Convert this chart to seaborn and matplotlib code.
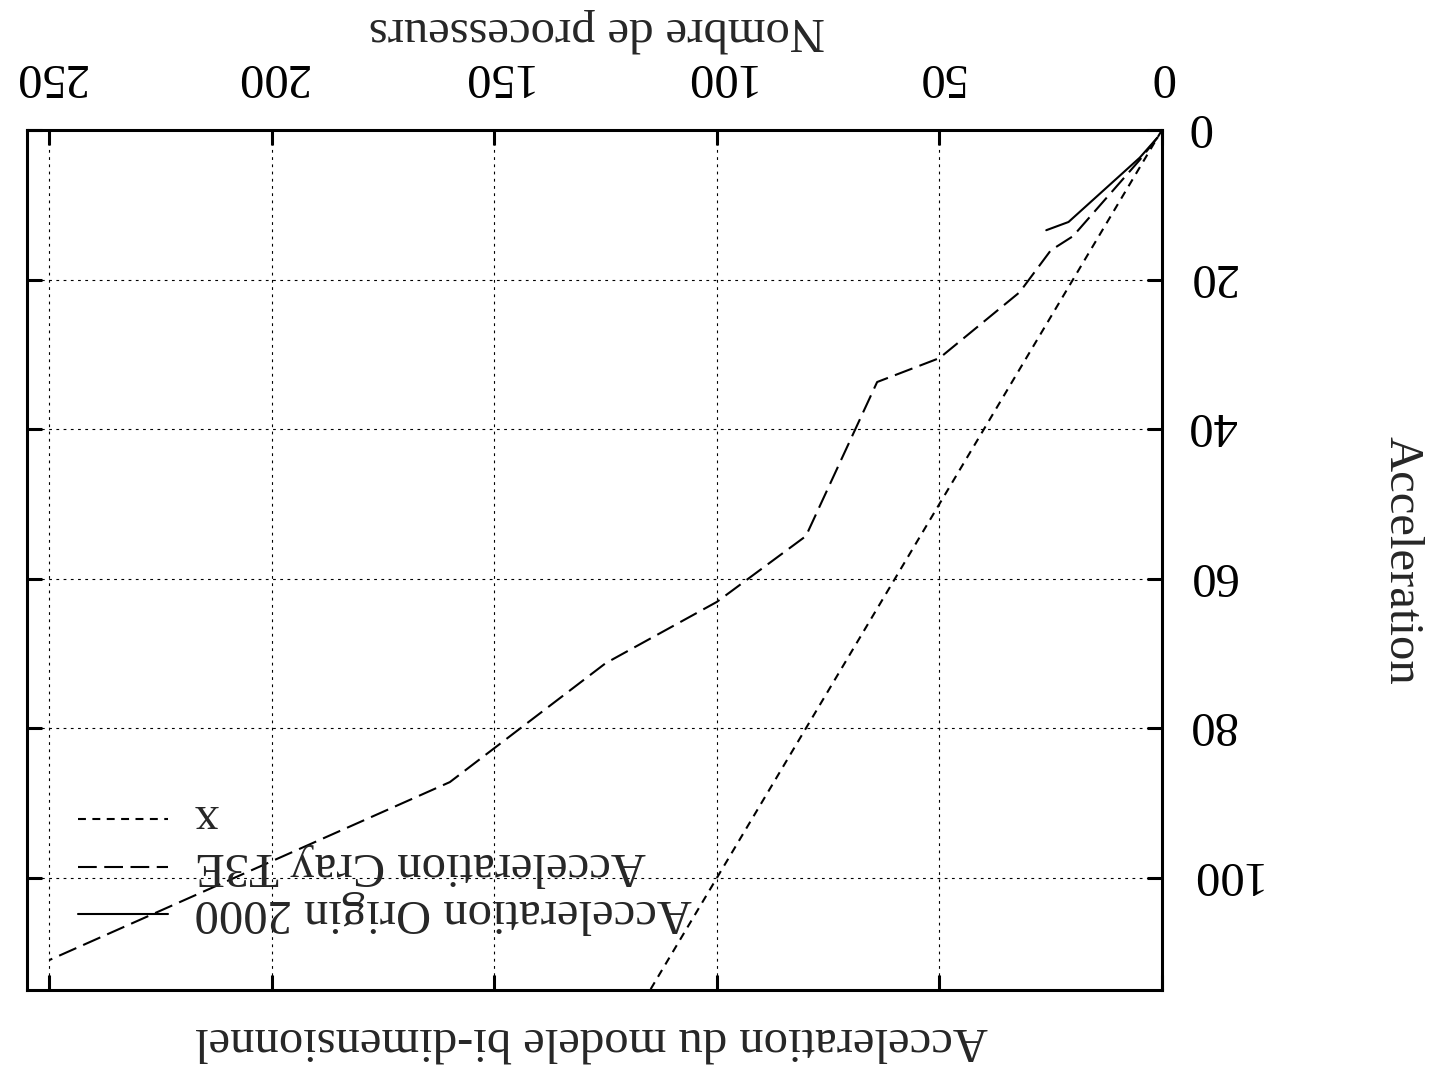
import numpy as np
import pandas as pd
import matplotlib
matplotlib.use('Agg')
import matplotlib.pyplot as plt
import matplotlib.transforms as mtrans
import seaborn as sns

# ---- data ----
ideal_x = [0, 255]
ideal_y = [0, 255]
cray_x = [1, 5, 20, 25, 32, 50, 64, 80, 100, 125, 160, 250]
cray_y = [1, 4.0, 14.2, 16.1, 21.7, 30.5, 33.7, 54.3, 63.1, 71.3, 87.2, 111]
origin_x = [1, 5, 21, 26]
origin_y = [1, 3.7, 12.3, 13.4]
x_ticks = [0, 50, 100, 150, 200, 250]
y_ticks = [0, 20, 40, 60, 80, 100]
series_labels = ['x', 'Acceleration Cray T3E', 'Acceleration Origin 2000']
title = 'Acceleration du modele bi-dimensionnel'
xlabel = 'Nombre de processeurs'
ylabel = 'Acceleration'

sns.set_theme(style='white')
plt.rcParams['font.family'] = ['Liberation Serif', 'DejaVu Serif']
FS = 35

fig = plt.figure(figsize=(14.3, 10.67), dpi=100)
W, H = 1430, 1067
ax = fig.add_axes([27 / W, 1 - 990 / H, (1162 - 27) / W, (990 - 130) / H])

sns.lineplot(x=ideal_x, y=ideal_y, ax=ax, color='black', lw=1.5,
             linestyle=(0, (3.8, 3.1)), label=series_labels[0],
             sort=False, estimator=None)
sns.lineplot(x=cray_x, y=cray_y, ax=ax, color='black', lw=1.5,
             linestyle=(0, (9.0, 3.6)), label=series_labels[1],
             sort=False, estimator=None)
sns.lineplot(x=origin_x, y=origin_y, ax=ax, color='black', lw=1.5,
             linestyle='-', label=series_labels[2],
             sort=False, estimator=None)

# chart is shown rotated by 180 degrees
ax.set_xlim(255, 0)
ax.set_ylim(115, 0)
ax.set_xticks(x_ticks)
ax.set_yticks(y_ticks)
ax.set_xlabel('')
ax.set_ylabel('')

ax.grid(True, color='black', linestyle=(0, (2.5, 4)), linewidth=0.8)
for s in ax.spines.values():
    s.set_linewidth(2.2)
    s.set_color('black')

ax.tick_params(direction='in', length=11, width=2.2, colors='black',
               top=True, bottom=True, left=True, right=True,
               labeltop=True, labelbottom=False, labelleft=False, labelright=True,
               labelsize=FS)
ax.tick_params(axis='x', pad=23, labelrotation=180)
ax.tick_params(axis='y', pad=18, labelrotation=180)

# small vertical correction for upside-down labels
up = mtrans.ScaledTranslation(0, 9 / 100, fig.dpi_scale_trans)
for tk in ax.yaxis.get_major_ticks():
    tk.label2.set_transform(tk.label2.get_transform() + up)

leg = ax.legend(loc='lower left', bbox_to_anchor=(0.045, 0.057), frameon=False,
                handlelength=1.85, handletextpad=0.55, labelspacing=0.07,
                borderpad=0, borderaxespad=0, fontsize=FS)
up_leg = mtrans.ScaledTranslation(0, 7 / 100, fig.dpi_scale_trans)
for t in leg.get_texts():
    t.set_rotation(180)
    t.set_transform(t.get_transform() + up_leg)

fig.text(597 / W, 1 - 30 / H, xlabel, rotation=180, ha='center', va='center', fontsize=FS)
fig.text(592 / W, 1 - 1040 / H, title, rotation=180, ha='center', va='center', fontsize=FS)
fig.text(1401 / W, 1 - 560 / H, ylabel, rotation=270, ha='center', va='center', fontsize=FS)

fig.savefig('out.png', dpi=100)
